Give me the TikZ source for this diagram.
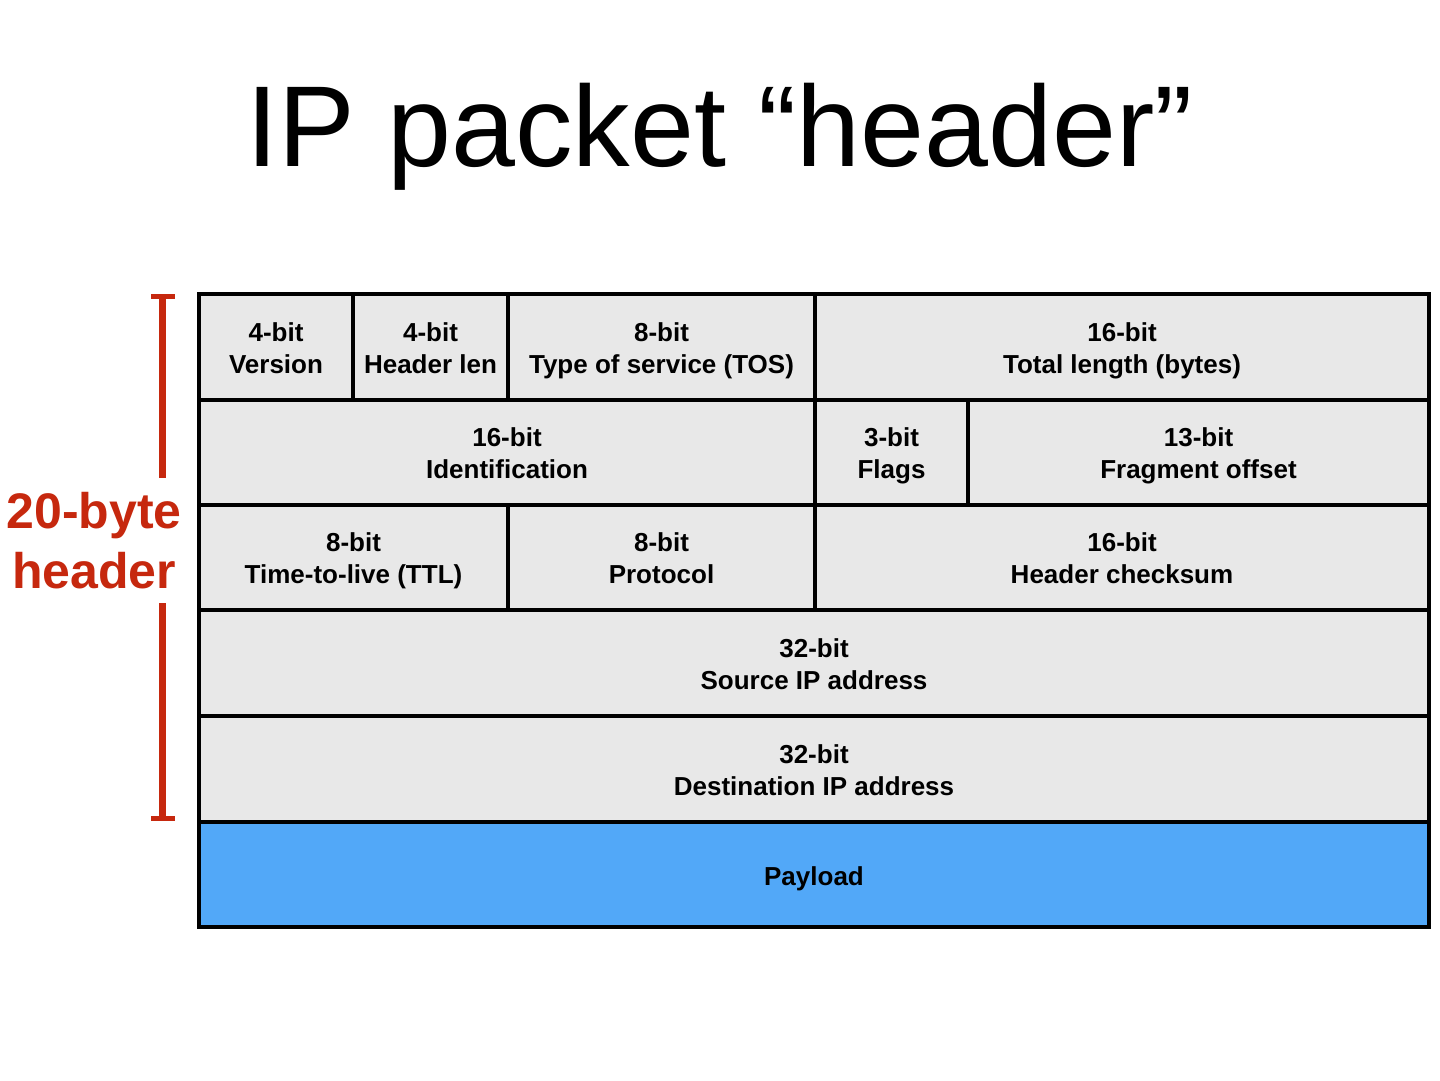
\documentclass[tikz,border=0pt]{standalone}
\usepackage{fontspec}
\setmainfont{Liberation Sans}
\definecolor{hdrred}{RGB}{198,40,14}
\definecolor{cellgray}{RGB}{232,232,232}
\definecolor{payblue}{RGB}{82,168,248}
\newcommand\ipcell[6][cellgray]{%
  \node[cell, fill=#1, minimum width={(#5-#3)*1pt}, minimum height={(#6-#4)*1pt}] (#2) at ({(#3+#5)/2},{(#4+#6)/2}) {};}
\newcommand\twoline[2]{\strut #1\\\strut #2}
\begin{document}
\begin{tikzpicture}[x=1pt,y=-1pt,
  cell/.style={draw=black, line width=4pt, inner sep=0pt, outer sep=0pt},
  celltext/.style={inner sep=0pt, align=center, yshift=-4pt, font=\bfseries\fontsize{26}{32}\selectfont},
  bracket/.style={draw=hdrred, line width=7pt},
  serif/.style={draw=hdrred, line width=5pt}]
\useasboundingbox[fill=white] (0,0) rectangle (1440,1080);
\node[anchor=base, inner sep=0pt, font=\fontsize{115}{130}\selectfont] (title) at (720,166) {IP packet “header”};
% row 1
\ipcell{ver}{199}{294}{353}{400}
\ipcell{hlen}{353}{294}{508}{400}
\ipcell{tos}{508}{294}{815}{400}
\ipcell{tlen}{815}{294}{1429}{400}
% row 2
\ipcell{ident}{199}{400}{815}{505}
\ipcell{flags}{815}{400}{968}{505}
\ipcell{frag}{968}{400}{1429}{505}
% row 3
\ipcell{ttl}{199}{505}{508}{610}
\ipcell{proto}{508}{505}{815}{610}
\ipcell{csum}{815}{505}{1429}{610}
% rows 4-5
\ipcell{src}{199}{610}{1429}{716}
\ipcell{dst}{199}{716}{1429}{822}
% payload
\ipcell[payblue]{payload}{199}{822}{1429}{927}
% texts
\node[celltext] (verT) at (ver) {\twoline{4-bit}{Version}};
\node[celltext] (hlenT) at (hlen) {\twoline{4-bit}{Header len}};
\node[celltext] (tosT) at (tos) {\twoline{8-bit}{Type of service (TOS)}};
\node[celltext] (tlenT) at (tlen) {\twoline{16-bit}{Total length (bytes)}};
\node[celltext] (identT) at (ident) {\twoline{16-bit}{Identification}};
\node[celltext] (flagsT) at (flags) {\twoline{3-bit}{Flags}};
\node[celltext] (fragT) at (frag) {\twoline{13-bit}{Fragment offset}};
\node[celltext] (ttlT) at (ttl) {\twoline{8-bit}{Time-to-live (TTL)}};
\node[celltext] (protoT) at (proto) {\twoline{8-bit}{Protocol}};
\node[celltext] (csumT) at (csum) {\twoline{16-bit}{Header checksum}};
\node[celltext] (srcT) at (src) {\twoline{32-bit}{Source IP address}};
\node[celltext] (dstT) at (dst) {\twoline{32-bit}{Destination IP address}};
\node[celltext, yshift=-1pt] (payloadT) at (payload) {\strut Payload};
% bracket
\node[text=hdrred, align=center, inner sep=0pt, font=\bfseries\fontsize{50}{60}\selectfont] (hdrlabel) at (94,541) {20-byte\\header};
\coordinate (brtop) at (162,296);
\coordinate (brbot) at (162,818);
\coordinate (brgapA) at (162,478);
\coordinate (brgapB) at (162,603);
\draw[bracket] (brtop) -- (brgapA);
\draw[bracket] (brgapB) -- (brbot);
\draw[serif] ([xshift=-11pt]brtop) -- ([xshift=13pt]brtop);
\draw[serif] ([xshift=-11pt]brbot) -- ([xshift=13pt]brbot);
\end{tikzpicture}
\end{document}
